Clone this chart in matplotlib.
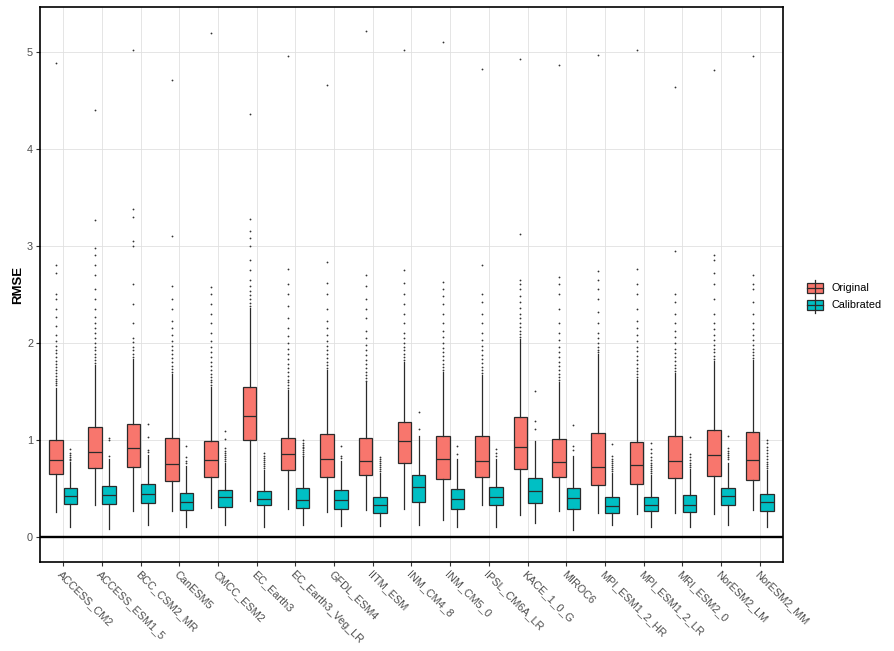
import matplotlib
matplotlib.use("Agg")
import matplotlib.pyplot as plt
from matplotlib.patches import Rectangle
from matplotlib.lines import Line2D

plt.rcParams['font.family'] = ['Liberation Sans', 'DejaVu Sans']

models = ["ACCESS_CM2", "ACCESS_ESM1_5", "BCC_CSM2_MR", "CanESM5", "CMCC_ESM2",
          "EC_Earth3", "EC_Earth3_Veg_LR", "GFDL_ESM4", "IITM_ESM", "INM_CM4_8",
          "INM_CM5_0", "IPSL_CM6A_LR", "KACE_1_0_G", "MIROC6", "MPI_ESM1_2_HR",
          "MPI_ESM1_2_LR", "MRI_ESM2_0", "NorESM2_LM", "NorESM2_MM"]
series = ["Original", "Calibrated"]

# Original (uncalibrated) RMSE box statistics
orig_q1 = [0.646, 0.708, 0.718, 0.574, 0.615, 0.997, 0.688, 0.615, 0.636, 0.760,
           0.595, 0.615, 0.698, 0.615, 0.529, 0.543, 0.605, 0.626, 0.584]
orig_med = [0.794, 0.873, 0.914, 0.753, 0.794, 1.248, 0.852, 0.804, 0.784, 0.990,
            0.804, 0.784, 0.925, 0.770, 0.718, 0.739, 0.784, 0.842, 0.794]
orig_q3 = [1.000, 1.131, 1.162, 1.017, 0.986, 1.543, 1.017, 1.059, 1.017, 1.182,
           1.038, 1.038, 1.234, 1.007, 1.069, 0.976, 1.038, 1.100, 1.079]
orig_lo = [0.251, 0.323, 0.261, 0.261, 0.292, 0.368, 0.282, 0.251, 0.272, 0.282,
           0.169, 0.323, 0.220, 0.261, 0.241, 0.231, 0.241, 0.231, 0.272]
orig_hi = [1.53, 1.77, 1.83, 1.68, 1.54, 2.36, 1.51, 1.72, 1.59, 1.80,
           1.70, 1.67, 2.04, 1.60, 1.88, 1.63, 1.69, 1.81, 1.82]
orig_fliers = [
    [1.56, 1.58, 1.61, 1.63, 1.66, 1.69, 1.72, 1.75, 1.78, 1.81, 1.85, 1.89, 1.93, 1.97, 2.02, 2.08, 2.17, 2.27, 2.35, 2.45, 2.5, 2.72, 2.8, 4.88],
    [1.79, 1.82, 1.85, 1.88, 1.92, 1.96, 2.0, 2.05, 2.1, 2.15, 2.2, 2.27, 2.35, 2.45, 2.55, 2.7, 2.8, 2.9, 2.98, 3.26, 4.40],
    [1.85, 1.88, 1.92, 1.96, 2.01, 2.05, 2.2, 2.4, 2.6, 3.0, 3.05, 3.30, 3.38, 5.02],
    [1.70, 1.73, 1.76, 1.80, 1.84, 1.88, 1.92, 1.97, 2.02, 2.08, 2.15, 2.22, 2.35, 2.45, 2.58, 3.10, 4.71],
    [1.56, 1.59, 1.62, 1.65, 1.68, 1.72, 1.76, 1.80, 1.85, 1.90, 1.96, 2.02, 2.1, 2.2, 2.3, 2.4, 2.5, 2.57, 5.19],
    [2.38, 2.41, 2.45, 2.49, 2.53, 2.58, 2.65, 2.75, 2.85, 3.0, 3.08, 3.15, 3.27, 4.36],
    [1.53, 1.56, 1.59, 1.62, 1.66, 1.70, 1.74, 1.78, 1.83, 1.88, 1.94, 2.0, 2.07, 2.15, 2.25, 2.38, 2.5, 2.6, 2.76, 4.95],
    [1.74, 1.77, 1.80, 1.84, 1.88, 1.92, 1.97, 2.02, 2.08, 2.15, 2.22, 2.35, 2.5, 2.62, 2.83, 4.66],
    [1.61, 1.64, 1.67, 1.70, 1.74, 1.78, 1.82, 1.87, 1.92, 1.98, 2.05, 2.12, 2.25, 2.35, 2.45, 2.58, 2.70, 5.21],
    [1.82, 1.85, 1.88, 1.92, 1.96, 2.0, 2.05, 2.1, 2.2, 2.3, 2.4, 2.5, 2.62, 2.75, 5.02],
    [1.72, 1.75, 1.78, 1.82, 1.86, 1.90, 1.95, 2.0, 2.06, 2.12, 2.2, 2.3, 2.4, 2.48, 2.55, 2.63, 5.10],
    [1.69, 1.72, 1.75, 1.79, 1.83, 1.87, 1.92, 1.97, 2.03, 2.1, 2.2, 2.3, 2.42, 2.5, 2.8, 4.82],
    [2.06, 2.09, 2.12, 2.16, 2.2, 2.25, 2.3, 2.36, 2.42, 2.48, 2.55, 2.60, 2.65, 3.12, 4.92],
    [1.62, 1.65, 1.68, 1.72, 1.76, 1.80, 1.85, 1.9, 1.96, 2.03, 2.1, 2.2, 2.35, 2.5, 2.6, 2.68, 4.86],
    [1.90, 1.93, 1.96, 2.0, 2.05, 2.1, 2.2, 2.32, 2.45, 2.55, 2.65, 2.74, 4.97],
    [1.65, 1.68, 1.71, 1.74, 1.78, 1.82, 1.86, 1.91, 1.96, 2.02, 2.08, 2.15, 2.22, 2.35, 2.5, 2.6, 2.76, 5.02],
    [1.71, 1.74, 1.77, 1.81, 1.85, 1.89, 1.94, 2.0, 2.06, 2.12, 2.2, 2.3, 2.42, 2.5, 2.95, 4.64],
    [1.83, 1.86, 1.9, 1.94, 1.98, 2.03, 2.08, 2.14, 2.2, 2.3, 2.45, 2.6, 2.72, 2.85, 2.90, 4.81],
    [1.84, 1.87, 1.9, 1.94, 1.98, 2.03, 2.08, 2.14, 2.2, 2.3, 2.42, 2.55, 2.6, 2.70, 4.95],
]

# Calibrated RMSE box statistics
cal_q1 = [0.334, 0.334, 0.347, 0.275, 0.306, 0.327, 0.292, 0.282, 0.241, 0.358,
          0.282, 0.323, 0.347, 0.282, 0.241, 0.261, 0.251, 0.327, 0.265]
cal_med = [0.423, 0.433, 0.443, 0.361, 0.406, 0.389, 0.382, 0.382, 0.327, 0.512,
           0.389, 0.413, 0.471, 0.402, 0.320, 0.330, 0.330, 0.423, 0.358]
cal_q3 = [0.505, 0.523, 0.543, 0.450, 0.481, 0.468, 0.505, 0.481, 0.413, 0.636,
          0.492, 0.512, 0.605, 0.505, 0.413, 0.413, 0.430, 0.502, 0.440]
cal_lo = [0.096, 0.083, 0.124, 0.096, 0.120, 0.096, 0.120, 0.110, 0.110, 0.120,
          0.100, 0.100, 0.141, 0.072, 0.120, 0.100, 0.100, 0.120, 0.100]
cal_hi = [0.77, 0.80, 0.84, 0.73, 0.76, 0.69, 0.82, 0.78, 0.66, 1.04,
          0.80, 0.80, 0.99, 0.83, 0.66, 0.64, 0.70, 0.76, 0.69]
cal_fliers = [
    [0.79, 0.80, 0.82, 0.84, 0.86, 0.90],
    [0.83, 1.00, 1.02],
    [0.87, 0.89, 1.03, 1.16],
    [0.76, 0.78, 0.82, 0.94],
    [0.78, 0.80, 0.82, 0.84, 0.86, 0.88, 0.91, 1.01, 1.09],
    [0.71, 0.73, 0.75, 0.77, 0.79, 0.81, 0.83, 0.86],
    [0.83, 0.85, 0.87, 0.89, 0.91, 0.93, 0.95, 0.97, 1.0],
    [0.81, 0.83, 0.94],
    [0.68, 0.70, 0.72, 0.74, 0.76, 0.78, 0.80, 0.82],
    [1.11, 1.29],
    [0.85, 0.94],
    [0.83, 0.86, 0.90],
    [1.11, 1.19, 1.50],
    [0.89, 0.94, 1.15],
    [0.68, 0.70, 0.72, 0.74, 0.76, 0.78, 0.80, 0.83, 0.96],
    [0.66, 0.68, 0.70, 0.72, 0.74, 0.76, 0.79, 0.82, 0.86, 0.90, 0.97],
    [0.72, 0.74, 0.76, 0.79, 0.82, 0.85, 1.03],
    [0.80, 0.82, 0.84, 0.86, 0.88, 0.91, 1.04],
    [0.71, 0.73, 0.75, 0.77, 0.80, 0.83, 0.86, 0.89, 0.93, 0.97, 1.00],
]

col_orig = "#F8766D"
col_cal = "#00BFC4"
edge = "#2b2b2b"
W, H = 894, 651

fig = plt.figure(figsize=(W / 100, H / 100), dpi=100)
L, R, T, B = 40, 783, 7, 562
ax = fig.add_axes([L / W, 1 - B / H, (R - L) / W, (B - T) / H])

def make_stats(q1, med, q3, lo, hi, fl):
    return [dict(q1=a, med=b, q3=c, whislo=d, whishi=e, fliers=f)
            for a, b, c, d, e, f in zip(q1, med, q3, lo, hi, fl)]

pos = list(range(1, len(models) + 1))
off = 0.185
bw = 0.35
common = dict(widths=bw, patch_artist=True, showcaps=False,
              whiskerprops=dict(color=edge, lw=0.9),
              medianprops=dict(color=edge, lw=0.9),
              flierprops=dict(marker='o', markersize=1.3, markerfacecolor='#333333',
                              markeredgecolor='none'))
ax.bxp(make_stats(orig_q1, orig_med, orig_q3, orig_lo, orig_hi, orig_fliers),
       positions=[p - off for p in pos],
       boxprops=dict(facecolor=col_orig, edgecolor=edge, lw=0.9), **common)
ax.bxp(make_stats(cal_q1, cal_med, cal_q3, cal_lo, cal_hi, cal_fliers),
       positions=[p + off for p in pos],
       boxprops=dict(facecolor=col_cal, edgecolor=edge, lw=0.9), **common)

ax.axhline(0, color='black', lw=1.7, zorder=3)

ax.set_xlim(0.4, len(models) + 0.6)
ax.set_ylim(-0.26, 5.46)
ax.set_xticks(pos)
ax.set_xticklabels(models, rotation=-45, ha='left', va='top', rotation_mode='anchor',
                   fontsize=7.8, color='#4D4D4D')
ax.set_yticks([0, 1, 2, 3, 4, 5])
ax.set_yticklabels(['0', '1', '2', '3', '4', '5'], fontsize=7.8, color='#4D4D4D')
ax.tick_params(axis='both', length=3, width=0.8, color='#333333', pad=2)
ax.grid(True, color='#E0E0E0', lw=0.6)
ax.set_axisbelow(True)
for s in ax.spines.values():
    s.set_color('black')
    s.set_linewidth(1.2)
ax.set_ylabel('RMSE', fontsize=9.5, fontweight='bold', labelpad=2)

# legend (boxplot-style keys)
def key(ycen, color, label):
    x0, kw, kh = 807, 16, 10
    y0 = ycen - kh / 2
    fig.add_artist(Line2D([(x0 + kw / 2) / W] * 2, [1 - (ycen - 8) / H, 1 - (ycen + 8) / H],
                          color=edge, lw=0.9))
    fig.add_artist(Rectangle((x0 / W, 1 - (y0 + kh) / H), kw / W, kh / H,
                             facecolor=color, edgecolor=edge, lw=0.9))
    fig.add_artist(Line2D([x0 / W, (x0 + kw) / W], [1 - ycen / H] * 2, color=edge, lw=0.9))
    fig.text(832 / W, 1 - ycen / H, label, fontsize=7.8, va='center', ha='left', color='black')

key(288, col_orig, series[0])
key(305, col_cal, series[1])

fig.savefig('out.png', dpi=100)
